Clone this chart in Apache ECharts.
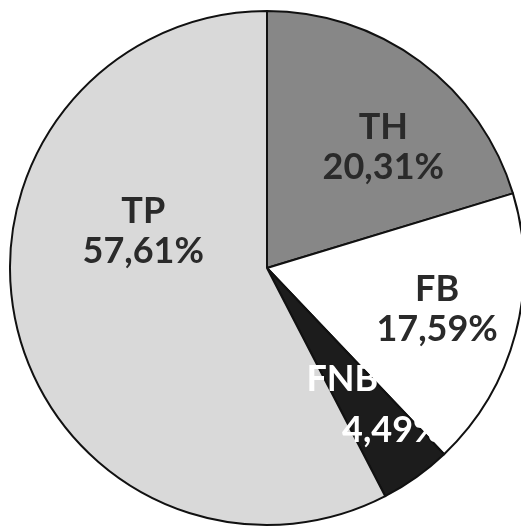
<!DOCTYPE html>
<html>
<head>
<meta charset="utf-8">
<script src="https://cdn.jsdelivr.net/npm/echarts@6/dist/echarts.min.js"></script>
<style>
html,body{margin:0;padding:0;background:#fff;}
#chart{width:521px;height:530px;}
</style>
</head>
<body>
<div id="chart"></div>
<script>
// Data
const categories = ['TH', 'FB', 'FNB', 'TP'];
const shares = [20.31, 17.59, 4.49, 57.61];

// Styling (not data)
const sliceColors = ['#878787', '#ffffff', '#1c1c1c', '#d9d9d9'];
const labelColors = ['#2a2a2a', '#2a2a2a', '#ffffff', '#2a2a2a'];
const labelNudge = [[38, -15], [43, 8], [49, 30], [4, -68]];

function fmt(v) { return v.toFixed(2).replace('.', ',') + '%'; }

const chart = echarts.init(document.getElementById('chart'));
chart.setOption({
  backgroundColor: '#ffffff',
  animation: false,
  series: [{
    type: 'pie',
    center: [267, 268],
    radius: 257,
    startAngle: 90,
    clockwise: true,
    avoidLabelOverlap: false,
    itemStyle: { borderColor: '#111111', borderWidth: 2 },
    label: {
      show: true,
      position: 'inside',
      fontFamily: 'Lato',
      fontWeight: 'bold',
      fontSize: 36,
      lineHeight: 40,
      formatter: function (p) {
        if (p.name === 'FNB') return '{fn|' + p.name + '}\n{fv|' + fmt(p.value) + '}';
        return p.name + '\n' + fmt(p.value);
      },
      rich: {
        fn: { fontFamily: 'Lato', fontWeight: 'bold', fontSize: 36, lineHeight: 50, color: '#ffffff', padding: [0, 100, 0, 0] },
        fv: { fontFamily: 'Lato', fontWeight: 'bold', fontSize: 36, lineHeight: 52, color: '#ffffff' }
      }
    },
    labelLine: { show: false },
    labelLayout: function (params) {
      const n = labelNudge[params.dataIndex];
      return { dx: n[0], dy: n[1] };
    },
    emphasis: { disabled: true },
    data: categories.map((c, i) => ({
      name: c,
      value: shares[i],
      itemStyle: { color: sliceColors[i] },
      label: { color: labelColors[i] }
    }))
  }]
});
</script>
</body>
</html>
